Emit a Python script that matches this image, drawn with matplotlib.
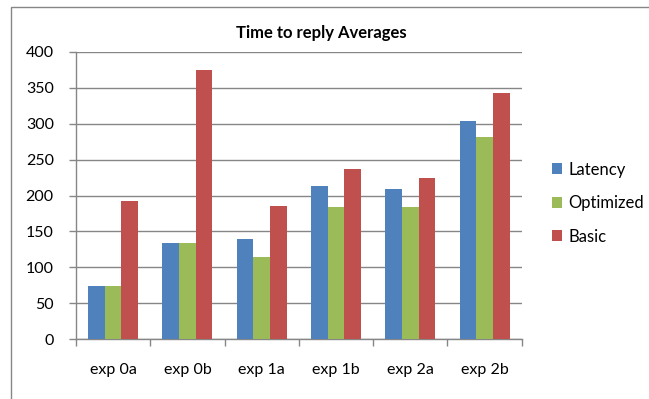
import matplotlib.pyplot as plt
import numpy as np
from matplotlib.patches import Rectangle

plt.rcParams["font.family"] = ["Lato", "DejaVu Sans"]

# bar data
categories = ["exp 0a", "exp 0b", "exp 1a", "exp 1b", "exp 2a", "exp 2b"]
latency = [74, 134, 140, 213, 209, 303]
optimized = [74, 134, 115, 184, 184, 282]
basic = [193, 374, 185, 237, 224, 342]

series = [
    ("Latency", latency, "#4F81BD"),
    ("Optimized", optimized, "#9BBB59"),
    ("Basic", basic, "#C0504D"),
]

fig = plt.figure(figsize=(6.49, 3.99), dpi=100)
ax = fig.add_axes([0.1171, 0.1496, 0.6868, 0.7208])

# outer chart frame (only top/left edges fall inside the image)
fig.patches.append(Rectangle((10.5 / 649, -0.1), 1.2, 1.1 - 7.5 / 399,
                             transform=fig.transFigure, fill=False,
                             edgecolor="#868686", linewidth=1.0))

x = np.arange(len(categories))
width = 0.224
for i, (name, vals, color) in enumerate(series):
    ax.bar(x + (i - 1) * width, vals, width, color=color, label=name,
           edgecolor="none", zorder=3)

ax.set_xlim(-0.5, len(categories) - 0.5)
ax.set_ylim(0, 400)
ax.set_yticks(range(0, 401, 50))
ax.yaxis.grid(True, color="#868686", linewidth=1.0, zorder=0)

# category boundaries carry the tick marks, labels sit in the middle
ax.set_xticks(np.arange(-0.5, len(categories)), minor=False)
ax.set_xticklabels([])
ax.set_xticks(x, minor=True)
ax.set_xticklabels(categories, minor=True)
ax.tick_params(axis="x", which="minor", length=0, pad=17, labelsize=11.5)
ax.tick_params(axis="x", which="major", length=5, color="#868686", width=1)
ax.tick_params(axis="y", length=5, color="#868686", width=1, labelsize=11.5,
               pad=11)

for side in ["top", "right"]:
    ax.spines[side].set_visible(False)
for side in ["left", "bottom"]:
    ax.spines[side].set_color("#868686")
    ax.spines[side].set_linewidth(1.0)

fig.text(321.5 / 649, 1 - 33 / 399, "Time to reply Averages",
         ha="center", va="center", fontsize=12, fontweight="bold")

ax.legend(loc="center left", bbox_to_anchor=(537 / 649, 1 - 203 / 399),
          bbox_transform=fig.transFigure, frameon=False, fontsize=12,
          handlelength=0.62, handleheight=0.62, handletextpad=0.35,
          labelspacing=1.05)

fig.savefig("out.png", dpi=100)
